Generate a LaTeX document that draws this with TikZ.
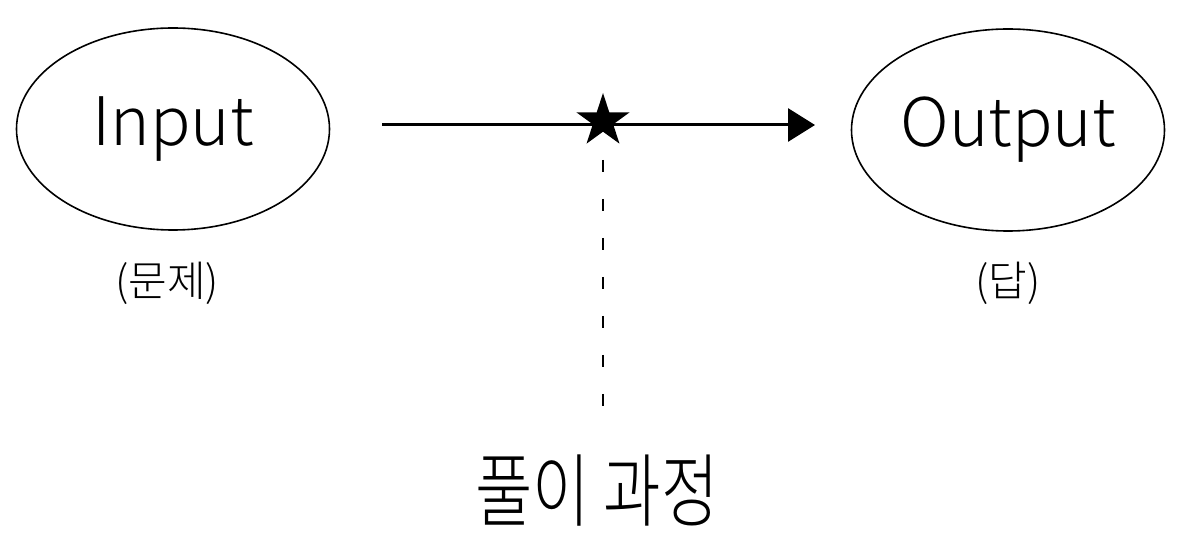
\documentclass[tikz,border=0pt]{standalone}
\usepackage{fontspec}
\setmainfont{Noto Sans CJK KR}[UprightFont={* Light}]
\usetikzlibrary{shapes.geometric,arrows.meta}
\begin{document}
\begin{tikzpicture}[x=0.5pt, y=-0.5pt,
    blob/.style={draw, ellipse, line width=0.8pt, inner sep=0pt,
      minimum width=156.5pt, minimum height=101pt, font=\fontsize{33.5}{40}\selectfont},
    note/.style={font=\fontsize{21}{24}\selectfont},
    dashline/.style={line width=1pt, dash pattern=on 6pt off 13.5pt}]
    \useasboundingbox (0, 0) rectangle (1194, 555);
    \node[blob] (in) at (173, 129) {Input};
    \node[blob] (out) at (1008, 130) {Output};
    \node[note] (inlab) at (167, 283) {(문제)};
    \node[note] (outlab) at (1008, 283) {(답)};
    \coordinate (from) at (382, 125);
    \coordinate (to) at (815, 125);
    \draw[line width=1.5pt, -{Triangle[length=13.5pt, width=16.5pt]}] (from) -- (to);
    \node[star, star points=5, star point ratio=2.618, fill, inner sep=0pt,
      minimum size=28pt] (mark) at (603, 121) {};
    \coordinate (dtop) at (603, 160);
    \coordinate (dbot) at (603, 410);
    \draw[dashline] (dtop) -- (dbot);
    \node[font=\fontsize{40}{44}\selectfont, xscale=0.78, transform shape] (proc) at (597, 491) {풀이 과정};
\end{tikzpicture}
\end{document}
